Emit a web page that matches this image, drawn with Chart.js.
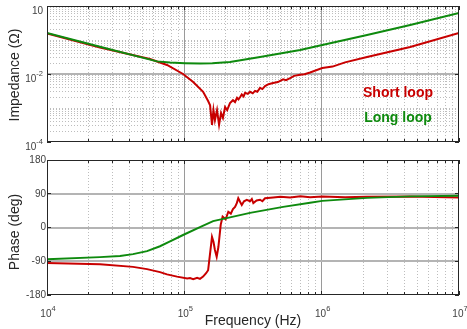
<!DOCTYPE html>
<html>
<head>
<meta charset="utf-8">
<script src="https://cdn.jsdelivr.net/npm/chart.js@4.4.0/dist/chart.umd.min.js"></script>
<style>
    html, body { margin: 0; padding: 0; background: #fff; }
    #wrap { position: relative; width: 467px; height: 329px; overflow: hidden; }
    canvas { position: absolute; left: 0; }
    #top { top: 0; }
    #bot { top: 155px; }
</style>
</head>
<body>
<div id="wrap">
    <canvas id="top" width="467" height="155"></canvas>
    <canvas id="bot" width="467" height="174"></canvas>
</div>
<script>
// Impedância (Ohm)
const zShortFreq = [1e4, 2.43e4, 5.62e4, 7.48e4, 9.79e4, 1.16e5, 1.37e5, 1.49e5, 1.54e5, 1.59e5, 1.63e5, 1.67e5, 1.73e5, 1.79e5, 1.85e5, 1.91e5, 1.98e5, 2.05e5, 2.15e5, 2.26e5, 2.34e5, 2.42e5, 2.48e5, 2.55e5, 2.62e5, 2.70e5, 2.77e5, 2.90e5, 3.01e5, 3.15e5, 3.27e5, 3.40e5, 3.56e5, 3.70e5, 3.87e5, 4.1e5, 4.43e5, 4.8e5, 5.24e5, 5.5e5, 5.89e5, 6.3e5, 6.97e5, 7.5e5, 8.23e5, 1.01e6, 1.2e6, 1.48e6, 2.14e6, 4.41e6, 1e7];
const zShort = [0.155, 0.060, 0.0276, 0.0184, 0.0100, 0.0058, 0.0030, 0.0016, 0.0012, 0.00032, 0.00087, 0.00044, 0.00087, 0.00032, 0.00071, 0.00051, 0.00107, 0.00087, 0.0014, 0.0017, 0.0015, 0.0020, 0.0018, 0.0021, 0.0025, 0.0022, 0.0028, 0.0026, 0.0030, 0.0027, 0.0032, 0.0030, 0.0039, 0.0036, 0.0044, 0.0050, 0.0054, 0.0058, 0.0070, 0.0066, 0.0076, 0.0088, 0.0095, 0.0098, 0.0111, 0.0150, 0.0165, 0.022, 0.0316, 0.0622, 0.161];
const zLongFreq = [1e4, 2.43e4, 6.32e4, 7.87e4, 1.01e5, 1.30e5, 1.6e5, 2.15e5, 3.56e5, 6.97e5, 1.01e6, 2.14e6, 4.41e6, 1e7];
const zLong = [0.161, 0.063, 0.0235, 0.0218, 0.0208, 0.0202, 0.0206, 0.0225, 0.0316, 0.0508, 0.0713, 0.140, 0.276, 0.62];

// Fase (graus)
const phShortFreq = [1e4, 2.43e4, 4.23e4, 5.35e4, 6.65e4, 7.48e4, 8.85e4, 1.05e5, 1.10e5, 1.16e5, 1.24e5, 1.30e5, 1.37e5, 1.44e5, 1.49e5, 1.59e5, 1.63e5, 1.67e5, 1.72e5, 1.77e5, 1.84e5, 1.90e5, 2.00e5, 2.09e5, 2.18e5, 2.26e5, 2.34e5, 2.41e5, 2.47e5, 2.55e5, 2.62e5, 2.72e5, 2.85e5, 3.01e5, 3.10e5, 3.18e5, 3.36e5, 3.56e5, 3.70e5, 3.87e5, 4.43e5, 5.0e5, 5.89e5, 7.0e5, 8.23e5, 1.01e6, 1.48e6, 2.14e6, 4.41e6, 1e7];
const phShort = [-94.6, -98, -105, -111, -119, -125, -131, -136, -135, -138, -134, -137, -131, -122, -114, -25, -38, -60, -78, -52, 7, 29, 22, 42, 37, 49, 55, 65, 78, 68, 60, 70, 74, 70, 76, 65, 72, 74, 70, 78, 80, 82, 80, 83, 81, 82.8, 80.6, 82, 82.8, 80];
const phLongFreq = [1e4, 2.43e4, 3.40e4, 4.23e4, 5.35e4, 6.65e4, 7.87e4, 9.79e4, 1.30e5, 1.62e5, 2.15e5, 3.01e5, 5.24e5, 8.23e5, 1.01e6, 2.14e6, 4.41e6, 1e7];
const phLong = [-84.6, -79, -76, -71, -63, -50, -37, -20, 1, 17, 27, 39, 55, 66, 71, 79, 83, 85];

// Rótulos dos eixos
const xTickExp = ['4', '5', '6', '7'];
const zTickLabels = [[1, ''], [1e-2, '-2'], [1e-4, '-4']];
const phTicks = [180, 90, 0, -90, -180];

const RED = '#c80000';
const GREEN = '#0e8a0e';
const FONT = '"Liberation Sans", Arial, Helvetica, sans-serif';

function pts(xs, ys) {
    return xs.map((x, i) => ({ x: x, y: ys[i] }));
}

// todas as posições 1..9 x 10^k entre dois expoentes
function logSteps(lo, hi) {
    const out = [];
    for (let k = lo; k < hi; k++) {
        for (let m = 1; m <= 9; m++) out.push(m * Math.pow(10, k));
    }
    out.push(Math.pow(10, hi));
    return out;
}

function crisp(v) { return Math.round(v - 0.5) + 0.5; }

function vLine(ctx, px, a) {
    ctx.beginPath();
    ctx.moveTo(crisp(px), a.top);
    ctx.lineTo(crisp(px), a.bottom);
    ctx.stroke();
}

function hLine(ctx, py, a) {
    ctx.beginPath();
    ctx.moveTo(a.left, crisp(py));
    ctx.lineTo(a.right, crisp(py));
    ctx.stroke();
}

function drawPow(ctx, exp, x, y, align) {
    ctx.font = '10px ' + FONT;
    const wb = ctx.measureText('10').width;
    ctx.font = '7.5px ' + FONT;
    const we = exp ? ctx.measureText(exp).width : 0;
    let x0 = x;
    if (align === 'right') x0 = x - wb - we;
    if (align === 'center') x0 = x - (wb + we) / 2 + 1;
    ctx.textAlign = 'left';
    ctx.textBaseline = 'alphabetic';
    ctx.font = '10px ' + FONT;
    ctx.fillText('10', x0, y);
    if (exp) {
        ctx.font = '7.5px ' + FONT;
        ctx.fillText(exp, x0 + wb, y - 6);
    }
}

function drawXGrid(ctx, chart) {
    const a = chart.chartArea, x = chart.scales.x;
    ctx.lineWidth = 1;
    ctx.strokeStyle = '#bdbdbd';
    ctx.setLineDash([1, 2]);
    logSteps(4, 7).forEach(f => {
        const e = Math.log10(f);
        if (Math.abs(e - Math.round(e)) < 1e-9) return;
        vLine(ctx, x.getPixelForValue(f), a);
    });
    ctx.setLineDash([]);
    ctx.strokeStyle = '#9a9a9a';
    [1e5, 1e6].forEach(f => vLine(ctx, x.getPixelForValue(f), a));
}

function drawFrame(ctx, chart, yTicks) {
    const a = chart.chartArea, x = chart.scales.x, y = chart.scales.y;
    ctx.setLineDash([]);
    ctx.strokeStyle = '#262626';
    ctx.lineWidth = 1;
    // marcas no eixo x (dentro, em cima e em baixo)
    logSteps(4, 7).forEach(f => {
        const px = crisp(x.getPixelForValue(f));
        const e = Math.log10(f);
        const len = Math.abs(e - Math.round(e)) < 1e-9 ? 4 : 3;
        ctx.beginPath();
        ctx.moveTo(px, a.bottom); ctx.lineTo(px, a.bottom - len);
        ctx.moveTo(px, a.top); ctx.lineTo(px, a.top + len);
        ctx.stroke();
    });
    yTicks.forEach(v => {
        const py = crisp(y.getPixelForValue(v));
        ctx.beginPath();
        ctx.moveTo(a.left, py); ctx.lineTo(a.left + 4, py);
        ctx.moveTo(a.right, py); ctx.lineTo(a.right - 4, py);
        ctx.stroke();
    });
    ctx.strokeRect(a.left + 0.5, a.top + 0.5, a.right - a.left - 1, a.bottom - a.top - 1);
}

function yTitle(ctx, text, cx, cy) {
    ctx.save();
    ctx.translate(cx, cy);
    ctx.rotate(-Math.PI / 2);
    ctx.fillStyle = '#262626';
    ctx.font = '14px ' + FONT;
    ctx.textAlign = 'center';
    ctx.textBaseline = 'middle';
    ctx.fillText(text, 0, 0);
    ctx.restore();
}

const impedancePlot = {
    id: 'impedancePlot',
    beforeDatasetsDraw(chart) {
        const ctx = chart.ctx, a = chart.chartArea, y = chart.scales.y;
        ctx.save();
        drawXGrid(ctx, chart);
        ctx.strokeStyle = '#bdbdbd';
        ctx.setLineDash([1, 2]);
        logSteps(-4, 0).forEach(v => {
            if (v === 1e-2 || v === 1e-4 || v === 1) return;
            hLine(ctx, y.getPixelForValue(v), a);
        });
        ctx.setLineDash([]);
        ctx.strokeStyle = '#b4b4b4';
        ctx.lineWidth = 2;
        ctx.beginPath();
        const py = Math.round(y.getPixelForValue(1e-2));
        ctx.moveTo(a.left, py); ctx.lineTo(a.right, py);
        ctx.stroke();
        ctx.restore();
    },
    afterDatasetsDraw(chart) {
        const ctx = chart.ctx, y = chart.scales.y;
        ctx.save();
        drawFrame(ctx, chart, zTickLabels.map(t => t[0]));
        ctx.fillStyle = '#404040';
        zTickLabels.forEach(t => {
            drawPow(ctx, t[1], 43, y.getPixelForValue(t[0]) + 7.5, 'right');
        });
        yTitle(ctx, 'Impedance (\u03A9)', 15, 75);
        ctx.font = 'bold 14px ' + FONT;
        ctx.textAlign = 'center';
        ctx.textBaseline = 'alphabetic';
        ctx.fillStyle = RED;
        ctx.fillText('Short loop', 398, 97);
        ctx.fillStyle = GREEN;
        ctx.fillText('Long loop', 398, 122);
        ctx.restore();
    }
};

const phasePlot = {
    id: 'phasePlot',
    beforeDatasetsDraw(chart) {
        const ctx = chart.ctx, a = chart.chartArea, y = chart.scales.y;
        ctx.save();
        drawXGrid(ctx, chart);
        ctx.strokeStyle = '#b4b4b4';
        ctx.lineWidth = 2;
        [90, 0, -90].forEach(v => {
            const py = Math.round(y.getPixelForValue(v));
            ctx.beginPath();
            ctx.moveTo(a.left, py); ctx.lineTo(a.right, py);
            ctx.stroke();
        });
        ctx.restore();
    },
    afterDatasetsDraw(chart) {
        const ctx = chart.ctx, a = chart.chartArea, x = chart.scales.x, y = chart.scales.y;
        ctx.save();
        drawFrame(ctx, chart, phTicks);
        ctx.fillStyle = '#404040';
        ctx.font = '10px ' + FONT;
        ctx.textAlign = 'right';
        ctx.textBaseline = 'middle';
        phTicks.forEach(v => ctx.fillText(String(v), a.left - 1, y.getPixelForValue(v)));
        xTickExp.forEach(e => {
            drawPow(ctx, e, x.getPixelForValue(Math.pow(10, +e)), a.bottom + 22, 'center');
        });
        ctx.fillStyle = '#262626';
        ctx.font = '14px ' + FONT;
        ctx.textAlign = 'center';
        ctx.textBaseline = 'alphabetic';
        ctx.fillText('Frequency (Hz)', (a.left + a.right) / 2, a.bottom + 30);
        yTitle(ctx, 'Phase (deg)', 15, 232 - 155);
        ctx.restore();
    }
};

function lineSet(label, data, color) {
    return {
        label: label,
        data: data,
        borderColor: color,
        borderWidth: 2,
        pointRadius: 0,
        tension: 0,
        fill: false
    };
}

function baseOptions(padding, yScale) {
    return {
        responsive: false,
        animation: false,
        devicePixelRatio: 1,
        layout: { padding: padding },
        scales: {
            x: { type: 'logarithmic', min: 1e4, max: 1e7, display: false },
            y: yScale
        },
        plugins: {
            legend: { display: false },
            tooltip: { enabled: false }
        }
    };
}

document.addEventListener('DOMContentLoaded', function() {
    new Chart(document.getElementById('top').getContext('2d'), {
        type: 'line',
        data: {
            datasets: [
                lineSet('Long loop', pts(zLongFreq, zLong), GREEN),
                lineSet('Short loop', pts(zShortFreq, zShort), RED)
            ]
        },
        options: baseOptions({ left: 47, top: 6, right: 8, bottom: 13 },
            { type: 'logarithmic', min: 1e-4, max: 1, display: false }),
        plugins: [impedancePlot]
    });

    new Chart(document.getElementById('bot').getContext('2d'), {
        type: 'line',
        data: {
            datasets: [
                lineSet('Long loop', pts(phLongFreq, phLong), GREEN),
                lineSet('Short loop', pts(phShortFreq, phShort), RED)
            ]
        },
        options: baseOptions({ left: 47, top: 5, right: 8, bottom: 34 },
            { type: 'linear', min: -180, max: 180, display: false }),
        plugins: [phasePlot]
    });
});
</script>
</body>
</html>
